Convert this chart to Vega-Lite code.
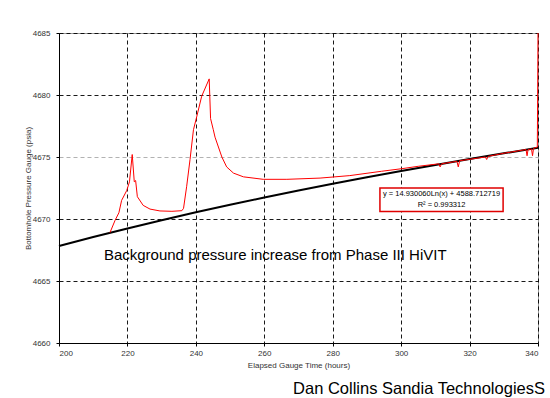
{
  "$schema": "https://vega.github.io/schema/vega-lite/v6.json",
  "autosize": {"type": "none"},
  "padding": {"left": 59, "top": 33, "right": 12, "bottom": 55},
  "width": 479,
  "height": 310,
  "background": "white",
  "config": {
    "font": "Liberation Sans",
    "view": {"stroke": "#999", "strokeWidth": 1}
  },
  "title": {
    "text": "Dan Collins Sandia TechnologiesS",
    "orient": "bottom",
    "anchor": "end",
    "fontSize": 16.5,
    "fontWeight": "normal",
    "font": "Liberation Sans",
    "color": "#000",
    "offset": 12,
    "dx": 3
  },
  "datasets": {
    "fit": [
      {"t": 200, "p": 4667.817}, {"t": 210, "p": 4668.545}, {"t": 220, "p": 4669.240},
      {"t": 230, "p": 4669.904}, {"t": 240, "p": 4670.539}, {"t": 250, "p": 4671.149},
      {"t": 260, "p": 4671.734}, {"t": 270, "p": 4672.298}, {"t": 280, "p": 4672.841},
      {"t": 290, "p": 4673.364}, {"t": 300, "p": 4673.871}, {"t": 310, "p": 4674.360},
      {"t": 320, "p": 4674.834}, {"t": 330, "p": 4675.294}, {"t": 340, "p": 4675.739}
    ],
    "gauge": [
      {"t": 214.9, "p": 4668.9}, {"t": 216.4, "p": 4669.9}, {"t": 217.5, "p": 4670.5},
      {"t": 218.3, "p": 4671.5}, {"t": 219.8, "p": 4672.3}, {"t": 220.6, "p": 4673.0},
      {"t": 221.4, "p": 4675.2}, {"t": 222.0, "p": 4673.0}, {"t": 222.4, "p": 4673.1},
      {"t": 222.9, "p": 4671.8}, {"t": 224.6, "p": 4671.1}, {"t": 226.6, "p": 4670.8},
      {"t": 229.5, "p": 4670.65}, {"t": 233.0, "p": 4670.62}, {"t": 235.9, "p": 4670.67},
      {"t": 236.4, "p": 4670.86}, {"t": 237.3, "p": 4672.6}, {"t": 238.3, "p": 4674.8},
      {"t": 239.3, "p": 4677.2}, {"t": 240.3, "p": 4678.3}, {"t": 241.7, "p": 4679.9},
      {"t": 243.9, "p": 4681.3}, {"t": 244.3, "p": 4678.1}, {"t": 245.1, "p": 4677.2},
      {"t": 245.6, "p": 4676.6}, {"t": 247.1, "p": 4675.4}, {"t": 247.6, "p": 4675.0},
      {"t": 249.0, "p": 4674.2}, {"t": 251.0, "p": 4673.7}, {"t": 253.9, "p": 4673.4},
      {"t": 259.7, "p": 4673.2}, {"t": 266.6, "p": 4673.2}, {"t": 276.3, "p": 4673.3},
      {"t": 285.0, "p": 4673.5}, {"t": 294.3, "p": 4673.85}, {"t": 300.0, "p": 4674.05},
      {"t": 305.0, "p": 4674.25}, {"t": 311.0, "p": 4674.45}, {"t": 311.4, "p": 4674.2},
      {"t": 311.8, "p": 4674.45}, {"t": 316.3, "p": 4674.65}, {"t": 316.7, "p": 4674.2},
      {"t": 317.1, "p": 4674.7}, {"t": 324.6, "p": 4675.0}, {"t": 325.0, "p": 4674.8},
      {"t": 325.4, "p": 4675.05}, {"t": 330.0, "p": 4675.3}, {"t": 336.5, "p": 4675.6},
      {"t": 336.8, "p": 4675.1}, {"t": 337.1, "p": 4675.6}, {"t": 338.1, "p": 4675.65},
      {"t": 338.4, "p": 4675.1}, {"t": 338.7, "p": 4675.7}, {"t": 339.8, "p": 4675.8},
      {"t": 340.0, "p": 4685.0}
    ],
    "box": [{"t1": 293.8, "t2": 329.8, "p1": 4670.6, "p2": 4672.5}],
    "eq": [
      {"t": 311.8, "p": 4672.0, "label": "y = 14.930060Ln(x) + 4588.712719"},
      {"t": 311.8, "p": 4671.15, "label": "R² = 0.993312"}
    ],
    "note": [{"t": 263.2, "p": 4667.1, "label": "Background pressure increase from Phase III HiVIT"}]
  },
  "encoding": {
    "x": {
      "field": "t", "type": "quantitative",
      "scale": {"domain": [200, 340], "nice": false, "zero": false},
      "axis": {
        "title": "Elapsed Gauge Time (hours)",
        "values": [200, 220, 240, 260, 280, 300, 320, 340],
        "format": "d",
        "titleFontSize": 8, "titleFontWeight": "normal", "titleColor": "#333",
        "titlePadding": 4,
        "labelFontSize": 8, "labelColor": "#333", "labelPadding": 3,
        "domainColor": "#000", "domainWidth": 1,
        "tickColor": "#000", "tickSize": 3,
        "grid": true, "gridColor": "#000", "gridDash": [4, 3], "gridWidth": 1, "gridOpacity": 0.9
      }
    },
    "y": {
      "field": "p", "type": "quantitative",
      "scale": {"domain": [4660, 4685], "nice": false, "zero": false},
      "axis": {
        "title": "Bottomhole Pressure Gauge (psia)",
        "values": [4660, 4665, 4670, 4675, 4680, 4685],
        "format": "d",
        "titleFontSize": 8, "titleFontWeight": "normal", "titleColor": "#333",
        "titlePadding": 0,
        "labelFontSize": 8, "labelColor": "#333", "labelPadding": 6,
        "domainColor": "#000", "domainWidth": 1,
        "tickColor": "#000", "tickSize": 3,
        "grid": true,
        "gridColor": {"condition": {"test": "datum.value == 4675", "value": "#aaa"}, "value": "#000"},
        "gridDash": [4, 3], "gridWidth": 1, "gridOpacity": 0.9
      }
    }
  },
  "layer": [
    {
      "data": {"name": "fit"},
      "mark": {"type": "line", "color": "#000", "strokeWidth": 2}
    },
    {
      "data": {"name": "gauge"},
      "mark": {"type": "line", "color": "#ff0000", "strokeWidth": 1}
    },
    {
      "data": {"name": "box"},
      "mark": {"type": "rect", "fill": "white", "stroke": "#e00000", "strokeWidth": 1.5},
      "encoding": {
        "x": {"field": "t1", "type": "quantitative"},
        "x2": {"field": "t2"},
        "y": {"field": "p1", "type": "quantitative"},
        "y2": {"field": "p2"}
      }
    },
    {
      "data": {"name": "eq"},
      "mark": {"type": "text", "fontSize": 7.5, "color": "#000", "align": "center", "baseline": "middle"},
      "encoding": {"text": {"field": "label"}}
    },
    {
      "data": {"name": "note"},
      "mark": {"type": "text", "fontSize": 15, "color": "#000", "align": "center", "baseline": "middle"},
      "encoding": {"text": {"field": "label"}}
    }
  ]
}
